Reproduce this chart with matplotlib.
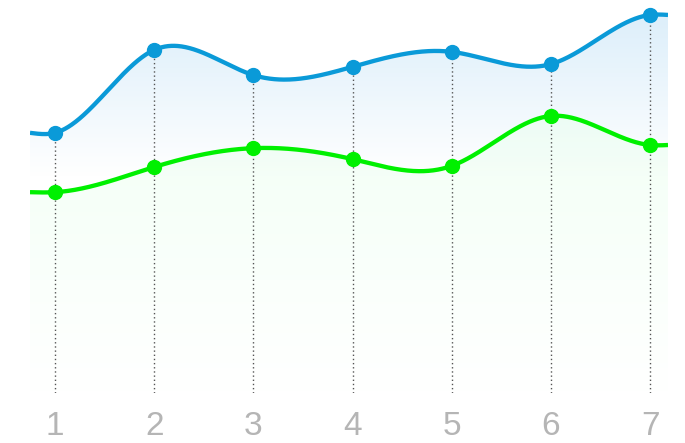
import numpy as np
import matplotlib.pyplot as plt
from matplotlib.patches import PathPatch
from matplotlib.path import Path

categories = ['1', '2', '3', '4', '5', '6', '7']
blue_values = [66.2, 87.3, 80.9, 83.0, 86.8, 83.7, 96.2]
green_values = [51.1, 57.5, 62.3, 59.5, 57.8, 70.5, 63.1]

BLUE = '#0a9ad8'
GREEN = '#00f000'


def natural_spline(x, y, xs):
    n = len(x)
    h = np.diff(x)
    A = np.zeros((n, n))
    b = np.zeros(n)
    A[0, 0] = A[-1, -1] = 1
    for i in range(1, n - 1):
        A[i, i - 1] = h[i - 1]
        A[i, i] = 2 * (h[i - 1] + h[i])
        A[i, i + 1] = h[i]
        b[i] = 6 * ((y[i + 1] - y[i]) / h[i] - (y[i] - y[i - 1]) / h[i - 1])
    M = np.linalg.solve(A, b)
    idx = np.clip(np.searchsorted(x, xs) - 1, 0, n - 2)
    x0, x1 = x[idx], x[idx + 1]
    hh = x1 - x0
    t0 = x1 - xs
    t1 = xs - x0
    return ((M[idx] * t0 ** 3 + M[idx + 1] * t1 ** 3) / (6 * hh)
            + (y[idx] / hh - M[idx] * hh / 6) * t0
            + (y[idx + 1] / hh - M[idx + 1] * hh / 6) * t1)


def gradient_fill(ax, xs, ys, rgb, a_top, y_top, y_bot, z):
    # vertical gradient under the curve, clipped to the area below it
    verts = np.column_stack([np.r_[xs[0], xs, xs[-1]], np.r_[0, ys, 0]])
    patch = PathPatch(Path(verts), facecolor='none', edgecolor='none')
    ax.add_patch(patch)
    grad = np.zeros((256, 1, 4))
    grad[..., :3] = rgb
    grad[..., 3] = np.linspace(a_top, 0, 256)[:, None]
    im = ax.imshow(grad, extent=[xs[0], xs[-1], y_bot, y_top],
                   aspect='auto', origin='upper', zorder=z, interpolation='bilinear')
    im.set_clip_path(patch)


fig = plt.figure(figsize=(6.85, 4.43), dpi=100)
ax = fig.add_axes([30 / 685, 50 / 443, 638 / 685, 393 / 443])
xlim = (0.748, 7.18)
ylim = (0, 100)

x = np.arange(1, len(categories) + 1)
xs = np.linspace(xlim[0], xlim[1], 800)

for vals, color, fill_rgb, a_top, y_top, y_bot, z in [
        (blue_values, BLUE, (0.83, 0.92, 0.98), 0.85, 100, 55, 1),
        (green_values, GREEN, (0.92, 1.0, 0.94), 0.6, 72, 0, 2)]:
    px = np.r_[xlim[0], x, xlim[1]]
    py = np.r_[vals[0], vals, vals[-1]]
    ys = natural_spline(px, py, xs)
    gradient_fill(ax, xs, ys, fill_rgb, a_top, y_top, y_bot, z)
    ax.plot(xs, ys, color=color, lw=3.1, zorder=5, solid_capstyle='butt')
    ax.plot(x, vals, 'o', color=color, ms=10, zorder=6)

ax.vlines(x, 0, blue_values, colors='#555555', linestyles=(0, (1, 2)),
          linewidth=1.0, zorder=4)

ax.set_xlim(*xlim)
ax.set_ylim(*ylim)
ax.set_xticks(x)
ax.set_xticklabels(categories, fontsize=24, color='#b5b5b5', family='Liberation Sans')
ax.tick_params(axis='x', length=0, pad=13)
ax.set_yticks([])
for s in ax.spines.values():
    s.set_visible(False)

fig.savefig('out.png', dpi=100)
